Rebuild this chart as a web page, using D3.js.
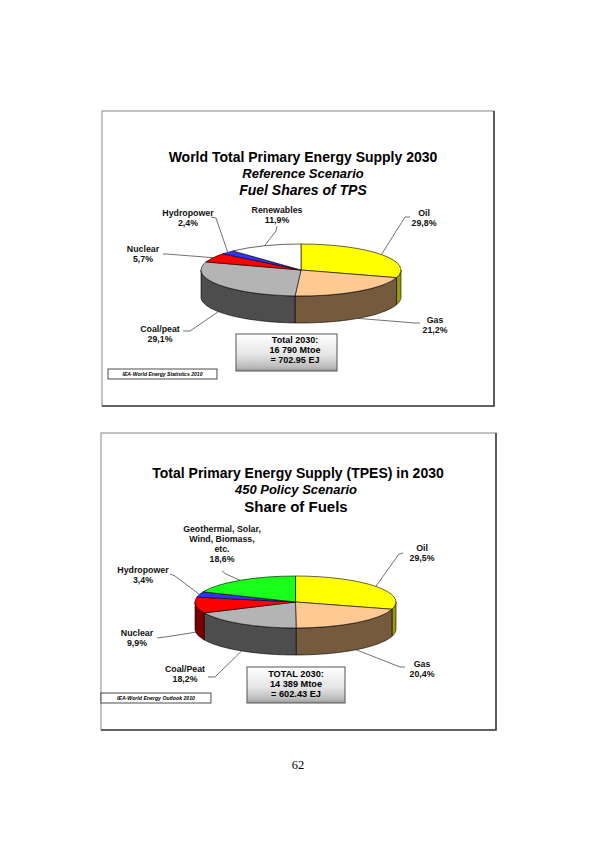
<!DOCTYPE html>
<html>
<head>
<meta charset="utf-8">
<script src="https://cdn.jsdelivr.net/npm/d3@7"></script>
<style>
  body { margin: 0; background: #fff; }
  svg { display: block; }
  text { font-family: "Liberation Sans", Arial, sans-serif; }
</style>
</head>
<body>
<svg id="page" width="595" height="842"></svg>
<script>
// chart 1 : reference scenario
var refFuels  = ["Oil", "Gas", "Coal/peat", "Nuclear", "Hydropower", "Renewables"];
var refShares = [29.8, 21.2, 29.1, 5.7, 2.4, 11.9];
var refTitles = ["World Total Primary Energy Supply 2030", "Reference Scenario", "Fuel Shares of TPS"];
var refTotal  = ["Total 2030:", "16 790 Mtoe", "= 702.95 EJ"];
var refSource = "IEA-World Energy Statistics 2010";

// chart 2 : 450 policy scenario
var polFuels  = ["Oil", "Gas", "Coal/Peat", "Nuclear", "Hydropower", "Geothermal, Solar,\nWind, Biomass,\netc."];
var polShares = [29.5, 20.4, 18.2, 9.9, 3.4, 18.6];
var polTitles = ["Total Primary Energy Supply (TPES) in 2030", "450 Policy Scenario", "Share of Fuels"];
var polTotal  = ["TOTAL 2030:", "14 389 Mtoe", "= 602.43 EJ"];
var polSource = "IEA-World Energy Outlook 2010";

var pageNumber = "62";

/********************************/
var kindList = ["oil", "gas", "coal", "nuclear", "hydro", "renew", "geo"];
var topColor = d3.scaleOrdinal()
    .domain(kindList)
    .range(["#ffff00", "#ffc994", "#b4b4b4", "#ff0000", "#3333ff", "#ffffff", "#1aff1a"]);
var sideColor = d3.scaleOrdinal()
    .domain(kindList)
    .range(["#9c9c00", "#765a3e", "#4d4d4d", "#7a0000", "#1a1a80", "#bbbbbb", "#0c800c"]);

var fmtPct = function (v) { return d3.format(".1f")(v).replace(".", ",") + "%"; };

var svg = d3.select("#page");

var defs = svg.append("defs");
var grad = defs.append("linearGradient")
    .attr("id", "boxgrad").attr("x1", 0).attr("y1", 0).attr("x2", 0).attr("y2", 1);
grad.append("stop").attr("offset", "0%").attr("stop-color", "#ffffff");
grad.append("stop").attr("offset", "55%").attr("stop-color", "#e6e6e6");
grad.append("stop").attr("offset", "88%").attr("stop-color", "#bdbdbd");
grad.append("stop").attr("offset", "100%").attr("stop-color", "#9a9a9a");

function frame(x0, y0, x1, y1) {
    svg.append("rect")
        .attr("x", x0).attr("y", y0).attr("width", x1 - x0).attr("height", y1 - y0)
        .attr("fill", "#fff").attr("stroke", "#9a9a9a").attr("stroke-width", 1.2);
    svg.append("path")
        .attr("d", "M" + (x1) + "," + y0 + "V" + y1 + "H" + x0)
        .attr("fill", "none").attr("stroke", "#444").attr("stroke-width", 1.6);
}

function drawChart(cfg) {
    var g = svg.append("g");
    var cx = cfg.cx, cy = cfg.cy, rx = cfg.rx, ry = cfg.ry, depth = cfg.depth;

    var pt = function (a, dz) {
        return [cx + rx * Math.sin(a), cy - ry * Math.cos(a) + (dz || 0)];
    };

    var arcs = d3.pie().sort(null).value(function (d) { return d; })(cfg.shares);
    arcs.forEach(function (d, i) { d.kind = cfg.kinds[i]; d.name = cfg.fuels[i]; });

    // titles
    cfg.titleStyle.forEach(function (s, i) {
        g.append("text")
            .attr("x", s.x).attr("y", s.y)
            .attr("text-anchor", "middle")
            .attr("font-size", s.size).attr("font-weight", "bold")
            .attr("font-style", s.italic ? "italic" : "normal")
            .text(cfg.titles[i]);
    });

    // side walls, only the front half is seen
    var wall = d3.area()
        .x(function (a) { return pt(a)[0]; })
        .y0(function (a) { return pt(a)[1]; })
        .y1(function (a) { return pt(a, depth)[1]; });

    arcs.forEach(function (d) {
        var a0 = Math.max(d.startAngle, Math.PI / 2),
            a1 = Math.min(d.endAngle, 3 * Math.PI / 2);
        if (a1 <= a0) return;
        var steps = d3.range(0, 41).map(function (k) { return a0 + (a1 - a0) * k / 40; });
        g.append("path")
            .attr("d", wall(steps) + "Z")
            .attr("fill", sideColor(d.kind))
            .attr("stroke", "#000").attr("stroke-width", 0.6)
            .attr("stroke-linejoin", "round");
    });

    // top face
    var arc = d3.arc().innerRadius(0).outerRadius(rx);
    g.append("g")
        .attr("transform", "translate(" + cx + "," + cy + ") scale(1," + (ry / rx) + ")")
        .selectAll("path")
        .data(arcs).enter()
        .append("path")
        .attr("d", arc)
        .attr("fill", function (d) { return topColor(d.kind); })
        .attr("stroke", "#000").attr("stroke-width", 0.6)
        .attr("vector-effect", "non-scaling-stroke")
        .attr("stroke-linejoin", "round");

    // leader lines and labels
    var line = d3.line();
    arcs.forEach(function (d, i) {
        var L = cfg.labels[i];
        var mid = (d.startAngle + d.endAngle) / 2;
        var end = pt(mid, Math.cos(mid) < 0 ? depth : 0);
        g.append("path")
            .attr("d", line([L.lead[0], L.lead[1], end]))
            .attr("fill", "none").attr("stroke", "#333").attr("stroke-width", 0.7);

        var lines = d.name.split("\n").concat([fmtPct(d.data)]);
        var t = g.append("text")
            .attr("text-anchor", "middle")
            .attr("font-size", 8.8).attr("font-weight", "bold")
            .attr("fill", "#111");
        lines.forEach(function (s, k) {
            t.append("tspan").attr("x", L.x).attr("y", L.y + k * 10).text(s);
        });
    });

    // total box
    var b = cfg.box;
    g.append("rect")
        .attr("x", b.x0).attr("y", b.y0).attr("width", b.x1 - b.x0).attr("height", b.y1 - b.y0)
        .attr("fill", "url(#boxgrad)").attr("stroke", "#555").attr("stroke-width", 1);
    cfg.total.forEach(function (s, k) {
        g.append("text")
            .attr("x", b.tx).attr("y", b.ty + k * 10)
            .attr("text-anchor", "middle")
            .attr("font-size", b.size).attr("font-weight", "bold")
            .text(s);
    });

    // source box
    var s = cfg.src;
    g.append("rect")
        .attr("x", s.x0).attr("y", s.y0).attr("width", s.x1 - s.x0).attr("height", s.y1 - s.y0)
        .attr("fill", "#fff").attr("stroke", "#222").attr("stroke-width", 0.8);
    g.append("text")
        .attr("x", (s.x0 + s.x1) / 2).attr("y", s.y1 - 3)
        .attr("text-anchor", "middle")
        .attr("font-size", 5.6).attr("font-weight", "bold").attr("font-style", "italic")
        .attr("textLength", s.len).attr("lengthAdjust", "spacingAndGlyphs")
        .text(cfg.source);
}

/********************************/
frame(102, 111, 494, 406);
frame(101, 433, 496, 730);

drawChart({
    fuels: refFuels, shares: refShares, titles: refTitles, total: refTotal, source: refSource,
    kinds: ["oil", "gas", "coal", "nuclear", "hydro", "renew"],
    cx: 301, cy: 270, rx: 100, ry: 26, depth: 27,
    titleStyle: [
        {x: 303, y: 162, size: 14, italic: false},
        {x: 303, y: 178, size: 13, italic: true},
        {x: 303, y: 195, size: 14, italic: true}
    ],
    labels: [
        {x: 424, y: 216, lead: [[410, 217], [405, 217]]},
        {x: 435, y: 323, lead: [[420, 323], [415, 323]]},
        {x: 160, y: 332, lead: [[183, 331], [190, 331]]},
        {x: 143, y: 252, lead: [[163, 254], [166, 254]]},
        {x: 188, y: 216, lead: [[211, 217], [216, 218]]},
        {x: 277, y: 213, lead: [[277, 226], [276, 231]]}
    ],
    box: {x0: 236, y0: 334, x1: 337, y1: 371, tx: 295, ty: 343, size: 9},
    src: {x0: 108, y0: 369, x1: 217, y1: 379, len: 80}
});

drawChart({
    fuels: polFuels, shares: polShares, titles: polTitles, total: polTotal, source: polSource,
    kinds: ["oil", "gas", "coal", "nuclear", "hydro", "geo"],
    cx: 295.5, cy: 602, rx: 100.5, ry: 26, depth: 27,
    titleStyle: [
        {x: 298, y: 478, size: 14, italic: false},
        {x: 296, y: 494, size: 13, italic: true},
        {x: 296, y: 512, size: 15, italic: false}
    ],
    labels: [
        {x: 422, y: 551, lead: [[403, 553], [399, 554]]},
        {x: 422, y: 667, lead: [[405, 667], [400, 667]]},
        {x: 185, y: 672, lead: [[208, 677], [215, 677]]},
        {x: 137, y: 636, lead: [[157, 638], [165, 637]]},
        {x: 143, y: 573, lead: [[170, 574], [175, 576]]},
        {x: 222, y: 532, lead: [[222, 571], [226, 574]]}
    ],
    box: {x0: 247, y0: 667, x1: 345, y1: 703, tx: 296, ty: 677, size: 9.2},
    src: {x0: 101, y0: 693, x1: 211, y1: 703, len: 78}
});

svg.append("text")
    .attr("x", 298).attr("y", 769)
    .attr("text-anchor", "middle")
    .style("font-family", "'Liberation Serif', 'Times New Roman', serif")
    .attr("font-size", 12.5)
    .text(pageNumber);
</script>
</body>
</html>
